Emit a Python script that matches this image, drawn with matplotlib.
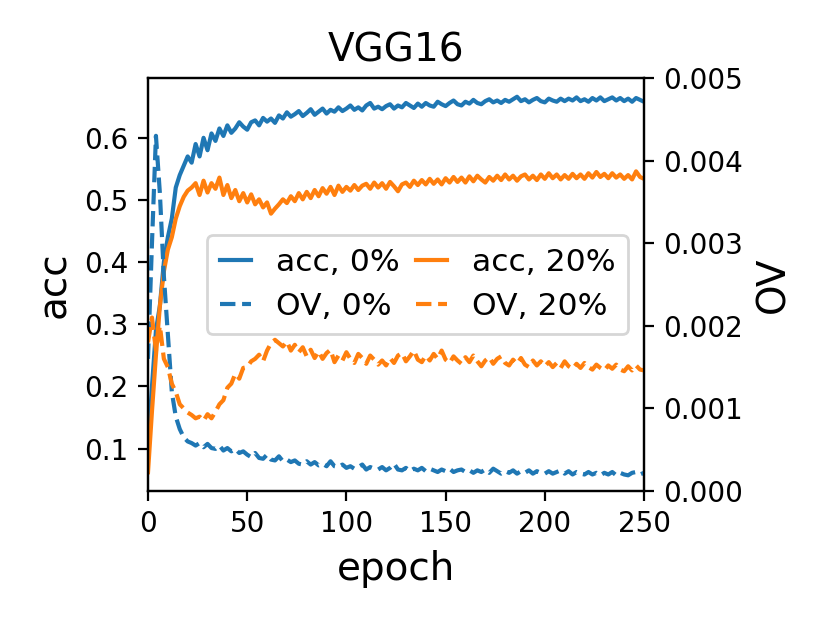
import numpy as np
from matplotlib import pyplot as plt

epochs = np.arange(0, 251, 2)

acc_0 = [0.10, 0.20, 0.29, 0.33, 0.40, 0.44, 0.47, 0.52, 0.54, 0.555,
         0.57, 0.56, 0.59, 0.57, 0.60, 0.58, 0.607, 0.595, 0.615, 0.603,
         0.62, 0.608, 0.615, 0.625, 0.618, 0.613, 0.625, 0.628, 0.62, 0.632,
         0.626, 0.631, 0.624, 0.636, 0.631, 0.641, 0.634, 0.638, 0.643, 0.635,
         0.64, 0.646, 0.637, 0.642, 0.647, 0.639, 0.645, 0.642, 0.649, 0.643,
         0.647, 0.652, 0.645, 0.649, 0.644, 0.652, 0.656, 0.647, 0.65, 0.646,
         0.651, 0.654, 0.647, 0.652, 0.649, 0.656, 0.652, 0.648, 0.655, 0.65,
         0.656, 0.652, 0.65, 0.658, 0.654, 0.651, 0.656, 0.66, 0.654, 0.652,
         0.658, 0.655, 0.661, 0.656, 0.654, 0.659, 0.662, 0.657, 0.66, 0.656,
         0.661, 0.658, 0.662, 0.666, 0.659, 0.662, 0.657, 0.661, 0.664, 0.659,
         0.657, 0.663, 0.66, 0.658, 0.663, 0.659, 0.663, 0.66, 0.665, 0.659,
         0.662, 0.658, 0.664, 0.66, 0.665, 0.659, 0.662, 0.665, 0.66, 0.664,
         0.659, 0.663, 0.658, 0.664, 0.661, 0.658]

acc_20 = [0.062, 0.16, 0.25, 0.33, 0.385, 0.42, 0.44, 0.47, 0.49, 0.505,
          0.515, 0.52, 0.527, 0.508, 0.531, 0.512, 0.527, 0.518, 0.536, 0.508,
          0.524, 0.503, 0.516, 0.498, 0.511, 0.496, 0.509, 0.493, 0.501, 0.488,
          0.496, 0.478, 0.486, 0.493, 0.501, 0.495, 0.506, 0.498, 0.511, 0.501,
          0.513, 0.503, 0.516, 0.506, 0.519, 0.51, 0.521, 0.508, 0.523, 0.513,
          0.521, 0.515, 0.524, 0.516, 0.523, 0.526, 0.518, 0.528, 0.52, 0.527,
          0.518, 0.529, 0.522, 0.514, 0.525, 0.528, 0.521, 0.531, 0.524, 0.532,
          0.525, 0.534, 0.526, 0.533, 0.525, 0.535, 0.528, 0.537, 0.529, 0.536,
          0.528, 0.538, 0.53, 0.539, 0.533, 0.528, 0.537, 0.531, 0.539, 0.532,
          0.541, 0.533, 0.539, 0.531, 0.538, 0.541, 0.533, 0.539, 0.532, 0.541,
          0.534, 0.543, 0.535, 0.541, 0.533, 0.54, 0.534, 0.542, 0.535, 0.541,
          0.534, 0.543, 0.536, 0.545, 0.537, 0.542, 0.535, 0.543, 0.536, 0.541,
          0.534, 0.54, 0.533, 0.546, 0.537, 0.534]

ov_0 = [0.0016, 0.0030, 0.0043, 0.0036, 0.0026, 0.0019, 0.0012, 0.0009, 0.00075, 0.00065,
        0.0006, 0.00058, 0.00055, 0.00058, 0.00053, 0.00057, 0.00052, 0.00051, 0.00055, 0.00049,
        0.00052, 0.00048, 0.00051, 0.00046, 0.00048, 0.00044, 0.00041, 0.00046, 0.0004, 0.00039,
        0.00044, 0.00038, 0.00037, 0.00042, 0.00036, 0.00038, 0.00035, 0.00037, 0.00033, 0.00032,
        0.00036, 0.00032, 0.00035, 0.00031, 0.00033, 0.0003, 0.00036, 0.0003, 0.00029, 0.00032,
        0.00028, 0.0003, 0.00027, 0.00029, 0.00032, 0.00026, 0.00029, 0.00027, 0.00026, 0.00029,
        0.00025, 0.00028, 0.00033, 0.00026, 0.00025, 0.00028, 0.00024, 0.00027, 0.00025, 0.00028,
        0.00024, 0.00027, 0.00025, 0.00023, 0.00026, 0.00024, 0.00027, 0.00023, 0.00025, 0.00026,
        0.00023, 0.00025, 0.00022, 0.00025, 0.00023, 0.00026, 0.00022, 0.00027, 0.00024, 0.00021,
        0.00024, 0.00022, 0.00025, 0.00021, 0.00024, 0.00022, 0.00025, 0.00021, 0.00024, 0.00022,
        0.00021, 0.00024, 0.00021, 0.00023, 0.00025, 0.00021, 0.00024, 0.0002, 0.00023, 0.00021,
        0.0002, 0.00023, 0.0002, 0.00022, 0.00019, 0.00022, 0.0002, 0.00023, 0.00019, 0.00022,
        0.0002, 0.00019, 0.00022, 0.00023, 0.0002, 0.00022]

ov_20 = [0.0018, 0.0021, 0.0017, 0.0020, 0.0016, 0.0015, 0.0013, 0.0012, 0.00105, 0.001,
         0.00095, 0.00092, 0.00088, 0.0009, 0.00085, 0.00093, 0.00088, 0.00096, 0.00105, 0.0011,
         0.00125, 0.0013, 0.00142, 0.00136, 0.00149, 0.0015, 0.00157, 0.0016, 0.00165, 0.00157,
         0.0017, 0.00179, 0.00183, 0.00179, 0.00175, 0.00181, 0.0017, 0.00177, 0.00168, 0.00174,
         0.00163, 0.00171, 0.00161, 0.00169, 0.0016, 0.00167, 0.00171, 0.00156, 0.00164, 0.00158,
         0.00168, 0.0016, 0.00155, 0.00166, 0.00161, 0.00154, 0.00164, 0.00159, 0.00153, 0.00158,
         0.00152, 0.00161, 0.00155, 0.00164, 0.00167, 0.00157, 0.00163, 0.0017, 0.00159, 0.00156,
         0.00164, 0.00158, 0.00166, 0.0016, 0.0017, 0.00159, 0.00155, 0.00163, 0.00158, 0.00154,
         0.00162, 0.00156, 0.00164, 0.00157, 0.00151, 0.00158, 0.00162, 0.00154, 0.0016, 0.00163,
         0.00155, 0.00152, 0.00159, 0.00154, 0.00161, 0.00153, 0.0015, 0.00158, 0.00152, 0.00157,
         0.00151, 0.00156, 0.0015, 0.00155, 0.00149, 0.00157, 0.00151, 0.00148, 0.00154, 0.00149,
         0.00155, 0.0015, 0.00147, 0.00153, 0.00149, 0.00146, 0.00152, 0.00148, 0.00153, 0.00147,
         0.00145, 0.00151, 0.00146, 0.00152, 0.00147, 0.00146]

fig = plt.figure(figsize=(4.15, 3.115), dpi=200)
ax = fig.add_subplot(111)
fig.subplots_adjust(left=148/830, right=644/830, bottom=1-491/623, top=1-78/623)
ax2 = ax.twinx()

l1, = ax.plot(epochs, acc_0, color="C0", label="acc, 0%")
l2, = ax2.plot(epochs, ov_0, color="C0", linestyle="--", label="OV, 0%")
l3, = ax.plot(epochs, acc_20, color="C1", label="acc, 20%")
l4, = ax2.plot(epochs, ov_20, color="C1", linestyle="--", label="OV, 20%")

ax.set_xlim(0, 250)
ax2.set_ylim(0, 0.005)
ax.set_xlabel("epoch", fontsize=14)
ax.set_ylabel("acc", fontsize=14)
ax2.set_ylabel("OV", fontsize=14)
ax.set_title("VGG16", fontsize=14)
ax.tick_params(labelsize=10)
ax2.tick_params(labelsize=10)

ax2.legend(handles=[l1, l2, l3, l4], ncol=2, loc="center right", fontsize=11.3,
           handlelength=1.0, handletextpad=0.8, columnspacing=0.5)

plt.savefig("out.png", dpi=200)
